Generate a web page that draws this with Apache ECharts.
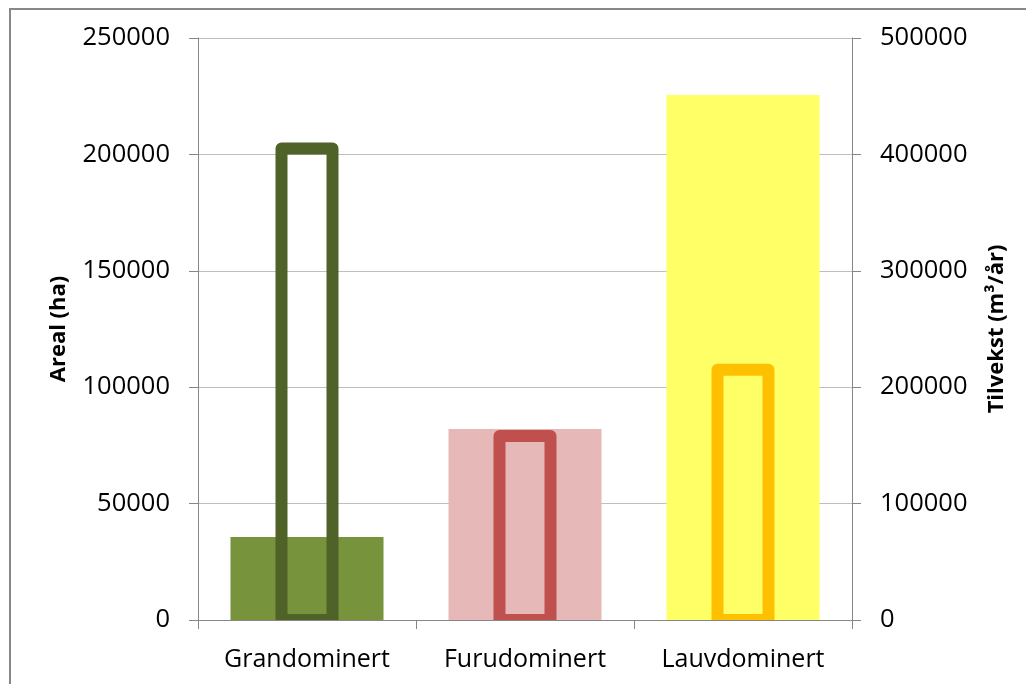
<!DOCTYPE html>
<html>
<head>
<meta charset="utf-8">
<script src="https://cdn.jsdelivr.net/npm/echarts@6/dist/echarts.min.js"></script>
<style>
html,body{margin:0;padding:0;background:#fff;}
#c{width:1026px;height:684px;}
</style>
</head>
<body>
<div id="c"></div>
<script>
const categories = ['Grandominert', 'Furudominert', 'Lauvdominert'];
const arealHa = [35700, 82000, 225500];
const tilvekst = [405000, 158000, 215000];
const leftTicks = [0, 50000, 100000, 150000, 200000, 250000];
const rightTicks = [0, 100000, 200000, 300000, 400000, 500000];
const fillColors = ['#77933C', '#E6B9B8', '#FFFF66'];
const lineColors = ['#4F6228', '#C0504D', '#FFC000'];

const FONT = 'Open Sans';
const chart = echarts.init(document.getElementById('c'));
const axisLineGray = '#868686';
const plain = v => String(v);
chart.setOption({
  animation: false,
  backgroundColor: '#fff',
  textStyle: { fontFamily: FONT },
  graphic: [{
    type: 'rect', silent: true, z: 100,
    shape: { x: 10, y: 9, width: 1100, height: 800 },
    style: { fill: 'none', stroke: '#888888', lineWidth: 2 }
  }],
  grid: { left: 198, right: 174, top: 38, bottom: 64 },
  xAxis: [{
    type: 'category', data: categories,
    axisLine: { lineStyle: { color: axisLineGray, width: 1 } },
    axisTick: { show: true, interval: 0, length: 9, alignWithLabel: false, lineStyle: { color: axisLineGray } },
    axisLabel: { interval: 0, fontSize: 25, color: '#000', margin: 27, fontFamily: FONT }
  }, {
    type: 'category', data: categories, show: false
  }],
  yAxis: [{
    type: 'value', min: 0, max: leftTicks[leftTicks.length - 1], interval: leftTicks[1] - leftTicks[0],
    name: 'Areal (ha)', nameLocation: 'middle', nameRotate: 90, nameGap: 128,
    nameTextStyle: { fontSize: 22, fontWeight: 'bold', color: '#000', fontFamily: FONT },
    axisLine: { show: true, lineStyle: { color: axisLineGray, width: 1 } },
    axisTick: { show: true, length: 9, lineStyle: { color: axisLineGray } },
    axisLabel: { fontSize: 25.5, color: '#000', margin: 28, fontFamily: FONT, formatter: plain },
    splitLine: { show: true, lineStyle: { color: '#BFBFBF', width: 1 } }
  }, {
    type: 'value', position: 'right', min: 0, max: rightTicks[rightTicks.length - 1], interval: rightTicks[1] - rightTicks[0],
    name: 'Tilvekst (m³/år)', nameLocation: 'middle', nameRotate: 90, nameGap: 134,
    nameTextStyle: { fontSize: 22, fontWeight: 'bold', color: '#000', fontFamily: FONT },
    axisLine: { show: true, lineStyle: { color: axisLineGray, width: 1 } },
    axisTick: { show: true, length: 9, lineStyle: { color: axisLineGray } },
    axisLabel: { fontSize: 25.5, color: '#000', margin: 28, fontFamily: FONT, formatter: plain },
    splitLine: { show: false }
  }],
  series: [{
    type: 'bar', name: 'Areal (ha)', xAxisIndex: 0, yAxisIndex: 0,
    barWidth: 153, z: 2,
    data: arealHa.map((v, i) => ({ value: v, itemStyle: { color: fillColors[i] } }))
  }, {
    type: 'custom', name: 'Tilvekst (m³/år)', xAxisIndex: 1, yAxisIndex: 1,
    z: 3, clip: true,
    data: tilvekst.map((v, i) => [i, v]),
    encode: { x: 0, y: 1 },
    renderItem: function (params, api) {
      const idx = api.value(0);
      const top = api.coord([idx, api.value(1)]);
      const base = api.coord([idx, 0]);
      const w = 51;
      return {
        type: 'rect',
        shape: { x: top[0] - w / 2, y: top[1], width: w, height: base[1] - top[1] },
        style: { fill: 'none', stroke: lineColors[params.dataIndex], lineWidth: 12, lineJoin: 'round' }
      };
    }
  }]
});
</script>
</body>
</html>
